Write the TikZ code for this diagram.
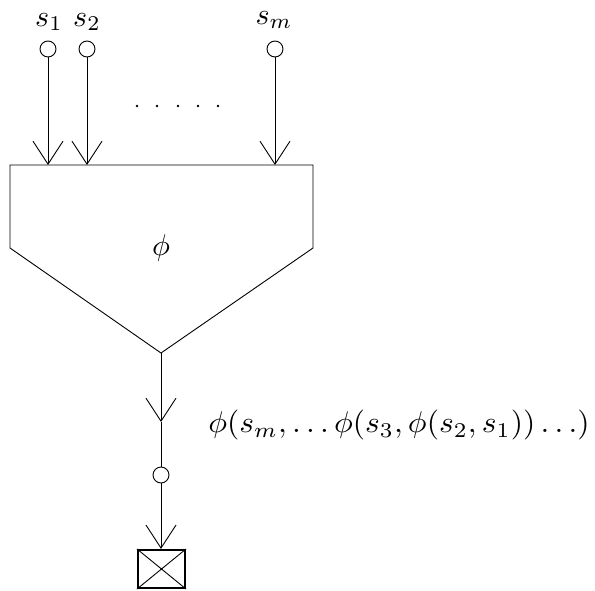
\documentclass[tikz,border=0pt]{standalone}
\usetikzlibrary{arrows.meta}
\begin{document}
\begin{tikzpicture}[x=1pt,y=-1pt,line width=0.9pt,
  vtip/.style={-{Straight Barb[length=23pt,width=30pt,line width=0.9pt]}},
  port/.style={circle,draw,inner sep=0pt,minimum size=16pt},
  lbl/.style={scale=3,inner sep=0pt}]
\useasboundingbox (0,0) rectangle (595,590);
% input ports
\node[port] (p1) at (48,49) {};
\node[port] (p2) at (87,49) {};
\node[port] (pm) at (275,49) {};
\node[lbl] (l1) at (49,22) {$s_1$};
\node[lbl] (l2) at (87,22) {$s_2$};
\node[lbl] (lm) at (274,20) {$s_m$};
% box
\coordinate (tl) at (10,165);
\coordinate (tr) at (313,165);
\coordinate (bl) at (10,248);
\coordinate (br) at (313,248);
\coordinate (tip) at (161,353);
\draw (bl) -- (tl) -- (tr) -- (br) -- (tip) -- cycle;
\coordinate (a1) at (48,165);
\coordinate (a2) at (87,165);
\coordinate (am) at (275,165);
\draw[vtip] (p1) -- (a1);
\draw[vtip] (p2) -- (a2);
\draw[vtip] (pm) -- (am);
% dots
\foreach \x in {137,157,178,198,218} \fill (\x,106) circle (1.4pt);
\node[lbl] (phi) at (161,248) {$\phi$};
% output
\coordinate (o1) at (161,422);
\node[port] (po) at (161,475) {};
\draw[vtip] (tip) -- (o1);
\draw (o1) -- (po);
\node[lbl,xscale=1.05,anchor=west] (res) at (207,425) {$\phi(s_m,\ldots\phi(s_3,\phi(s_2,s_1))\ldots)$};
% sink
\node[draw,line width=2.2pt,minimum width=47pt,minimum height=38pt,inner sep=0pt] (sink) at (161.5,569) {};
\draw (sink.north west) -- (sink.south east) (sink.north east) -- (sink.south west);
\draw[vtip] (po) -- (po |- sink.north);
\end{tikzpicture}
\end{document}
